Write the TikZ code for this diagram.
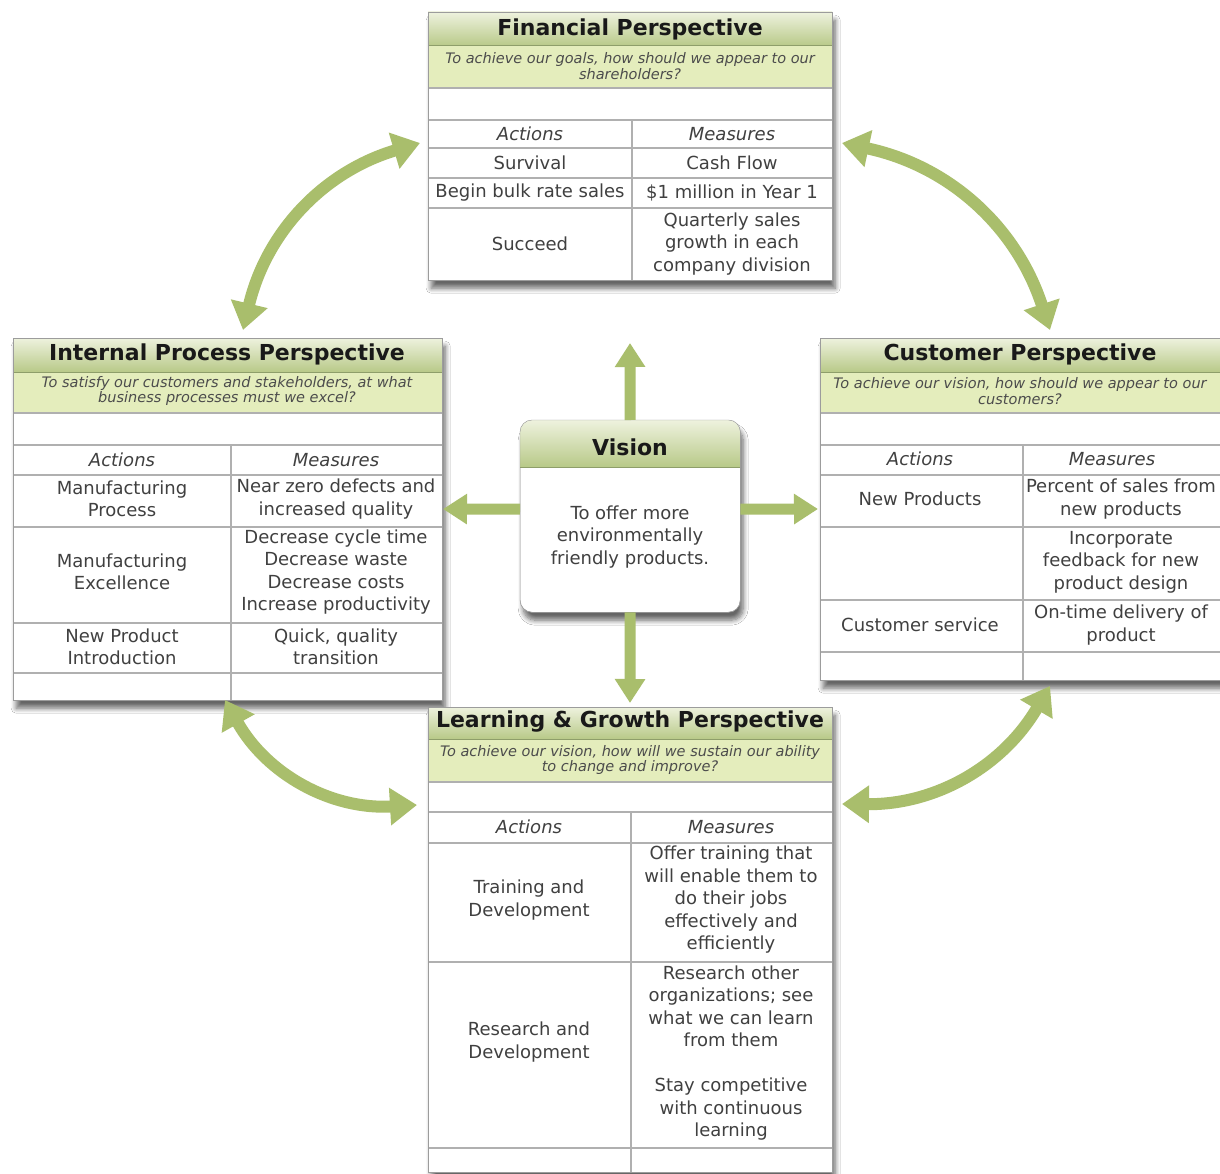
\documentclass[tikz,border=0pt]{standalone}
\usepackage{fontspec}
\setmainfont{DejaVu Sans}
\usetikzlibrary{arrows.meta,positioning,shadows.blur}

\definecolor{headtop}{HTML}{EEF2DE}
\definecolor{headbot}{HTML}{B8C988}
\definecolor{subband}{HTML}{E4EDBC}
\definecolor{arrowgreen}{HTML}{A9BE6C}
\definecolor{rulegray}{HTML}{9C9C9C}
\definecolor{bandline}{HTML}{8E9E6A}

\tikzset{
  persp/.style={draw=rulegray, fill=white, anchor=north west, inner sep=0pt,
    blur shadow={shadow xshift=3pt, shadow yshift=-8pt, shadow blur radius=5pt,
      shadow blur steps=8, shadow opacity=60}},
  headband/.style={top color=headtop, bottom color=headbot, draw=none},
  subband/.style={fill=subband, draw=none},
  gridline/.style={draw=rulegray!80, line width=1.1pt},
  sepline/.style={draw=bandline, line width=1pt},
  title/.style={font=\fontsize{22}{26}\selectfont\bfseries, text=black!90, inner sep=0pt},
  subtext/.style={font=\fontsize{14.5}{15.5}\selectfont\itshape, text=black!70, align=center, inner sep=0pt},
  cell/.style={font=\fontsize{18}{22.5}\selectfont, text=black!75, align=center, inner sep=0pt},
  colhead/.style={cell, font=\fontsize{18}{22.5}\selectfont\itshape},
  straightarrow/.style={draw=arrowgreen, line width=11pt, -{Triangle[width=29pt,length=24pt]}},
  bentarrow/.style={draw=arrowgreen, line width=12pt,
    {Triangle[width=36pt,length=27pt]}-{Triangle[width=36pt,length=27pt]}}
}

\begin{document}
\begin{tikzpicture}[x=1pt,y=-1pt]
\useasboundingbox (0,0) rectangle (1220,1174);
\clip (0,0) rectangle (1220,1174);
\fill[white] (0,0) rectangle (1220,1174);

% arrow ends
\coordinate (up-tip) at (630,343);
\coordinate (down-tip) at (630,703);
\coordinate (left-tip) at (443,509);
\coordinate (right-tip) at (818,509);
\coordinate (tl-a) at (243,330);
\coordinate (tl-b) at (420,143);
\coordinate (tr-a) at (842,143);
\coordinate (tr-b) at (1050,330);
\coordinate (bl-a) at (225,700);
\coordinate (bl-b) at (417,805);
\coordinate (br-a) at (842,804);
\coordinate (br-b) at (1050,686);

% Financial
\node[persp, minimum width=404pt, minimum height=268pt] (fin) at (428,12) {};
\shade[headband] (428,12) rectangle (832,46);
\fill[subband] (428,46) rectangle (832,88);
\draw[sepline] (428,46) -- (832,46);
\draw[gridline] (428,88) -- (832,88);
\draw[gridline, line width=2pt] (428,120) -- (832,120);
\foreach \y in {148,178,208}
  \draw[gridline] (428,\y) -- (832,\y);
\draw[gridline] (632,120) -- (632,280);
\draw[rulegray] (fin.north west) rectangle (fin.south east);
\node[title] (fin-title) at (630,29) {Financial Perspective};
\node[subtext] (fin-sub) at (630,66) {To achieve our goals, how should we appear to our\\shareholders?};
\node[colhead] (fin-act) at (530,134) {Actions};
\node[colhead] (fin-meas) at (732,134) {Measures};
\node[cell] (fin-a1) at (530,163) {Survival};
\node[cell] (fin-m1) at (732,163) {Cash Flow};
\node[cell] (fin-a2) at (530,193) {Begin bulk rate sales};
\node[cell] (fin-m2) at (732,193) {\$1 million in Year 1};
\node[cell] (fin-a3) at (530,244) {Succeed};
\node[cell] (fin-m3) at (732,244) {Quarterly sales\\growth in each\\company division};

% Internal Process
\node[persp, minimum width=429pt, minimum height=362pt] (int) at (13,338) {};
\shade[headband] (13,338) rectangle (442,372);
\fill[subband] (13,372) rectangle (442,413);
\draw[sepline] (13,372) -- (442,372);
\draw[gridline] (13,413) -- (442,413);
\draw[gridline, line width=2pt] (13,445) -- (442,445);
\foreach \y in {475,527,623,673}
  \draw[gridline] (13,\y) -- (442,\y);
\draw[gridline] (231,445) -- (231,700);
\draw[rulegray] (int.north west) rectangle (int.south east);
\node[title] (int-title) at (227,354) {Internal Process Perspective};
\node[subtext] (int-sub) at (227,391) {To satisfy our customers and stakeholders, at what\\business processes must we excel?};
\node[colhead] (int-act) at (122,460) {Actions};
\node[colhead] (int-meas) at (336,460) {Measures};
\node[cell] (int-a1) at (122,499) {Manufacturing\\Process};
\node[cell] (int-m1) at (336,499) {Near zero defects and\\increased quality};
\node[cell] (int-a2) at (122,572) {Manufacturing\\Excellence};
\node[cell] (int-m2) at (336,572) {Decrease cycle time\\Decrease waste\\Decrease costs\\Increase productivity};
\node[cell] (int-a3) at (122,647) {New Product\\Introduction};
\node[cell] (int-m3) at (336,647) {Quick, quality\\transition};

% Customer
\node[persp, minimum width=404pt, minimum height=342pt] (cus) at (820,338) {};
\shade[headband] (820,338) rectangle (1224,372);
\fill[subband] (820,372) rectangle (1224,413);
\draw[sepline] (820,372) -- (1224,372);
\draw[gridline] (820,413) -- (1224,413);
\draw[gridline, line width=2pt] (820,445) -- (1224,445);
\foreach \y in {475,527,600,652}
  \draw[gridline] (820,\y) -- (1224,\y);
\draw[gridline] (1023,445) -- (1023,680);
\draw[rulegray] (cus.north west) rectangle (cus.south east);
\node[title] (cus-title) at (1020,354) {Customer Perspective};
\node[subtext] (cus-sub) at (1020,391) {To achieve our vision, how should we appear to our\\customers?};
\node[colhead] (cus-act) at (920,459) {Actions};
\node[colhead] (cus-meas) at (1112,459) {Measures};
\node[cell] (cus-a1) at (920,499) {New Products};
\node[cell] (cus-m1) at (1121,499) {Percent of sales from\\new products};
\node[cell] (cus-m2) at (1121,562) {Incorporate\\feedback for new\\product design};
\node[cell] (cus-a3) at (920,625) {Customer service};
\node[cell] (cus-m3) at (1121,625) {On-time delivery of\\product};

% Learning & Growth
\node[persp, minimum width=404pt, minimum height=465pt] (lrn) at (428,707) {};
\shade[headband] (428,707) rectangle (832,739);
\fill[subband] (428,739) rectangle (832,782);
\draw[sepline] (428,739) -- (832,739);
\draw[gridline] (428,782) -- (832,782);
\draw[gridline, line width=2pt] (428,812) -- (832,812);
\foreach \y in {843,962,1148}
  \draw[gridline] (428,\y) -- (832,\y);
\draw[gridline] (631,812) -- (631,1172);
\draw[rulegray] (lrn.north west) rectangle (lrn.south east);
\node[title] (lrn-title) at (630,722) {Learning \& Growth Perspective};
\node[subtext] (lrn-sub) at (630,760) {To achieve our vision, how will we sustain our ability\\to change and improve?};
\node[colhead] (lrn-act) at (529,827) {Actions};
\node[colhead] (lrn-meas) at (731,827) {Measures};
\node[cell] (lrn-a1) at (529,900) {Training and\\Development};
\node[cell] (lrn-m1) at (731,900) {Offer training that\\will enable them to\\do their jobs\\effectively and\\efficiently};
\node[cell] (lrn-a2) at (529,1042) {Research and\\Development};
\node[cell] (lrn-m2) at (731,1053) {Research other\\organizations; see\\what we can learn\\from them\\[22.5pt]Stay competitive\\with continuous\\learning};

% Vision
\node[persp, rounded corners=12pt, minimum width=220pt, minimum height=192pt] (vis) at (520,420) {};
\shade[headband] (520,467) [rounded corners=12pt] -- (520,420) -- (740,420) [sharp corners] -- (740,467) -- cycle;
\draw[sepline] (520,467) -- (740,467);
\draw[rulegray, rounded corners=12pt] (vis.north west) rectangle (vis.south east);
\node[title] (vis-title) at (630,447) {Vision};
\node[cell] (vis-text) at (630,537) {To offer more\\environmentally\\friendly products.};

% arrows out of the vision
\draw[straightarrow] (vis.north) -- (up-tip);
\draw[straightarrow] (vis.south) -- (down-tip);
\draw[straightarrow] ([yshift=7pt]vis.west) -- (left-tip);
\draw[straightarrow] ([yshift=7pt]vis.east) -- (right-tip);

% arrows between the perspectives
\draw[bentarrow] (tl-a) to[bend left=30] (tl-b);
\draw[bentarrow] (tr-a) to[bend left=30] (tr-b);
\draw[bentarrow] (bl-a) to[bend right=32] (bl-b);
\draw[bentarrow] (br-a) to[bend right=30] (br-b);
\end{tikzpicture}
\end{document}
